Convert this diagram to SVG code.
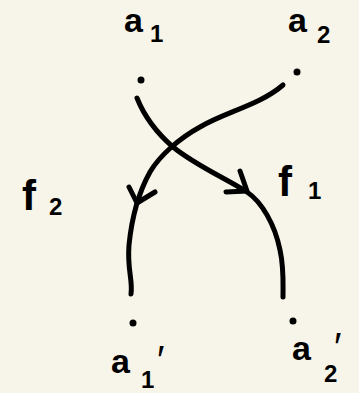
<svg xmlns="http://www.w3.org/2000/svg" width="359" height="393" viewBox="0 0 359 393">
<style>
.bg{fill:#f7f5e9}
.dot{fill:#000}
.t{font-family:"Liberation Sans",Arial,sans-serif;fill:#000;font-weight:bold}
.big{font-size:34px}
.f{font-size:42px}
.sub{font-size:24px}
.pr{font-size:40px;font-weight:normal}
.e{fill:none;stroke:#000;stroke-width:5;stroke-linecap:round;stroke-linejoin:round}
</style>
<rect class="bg" x="0" y="0" width="359" height="393"/>
<g id="a1">
<circle class="dot" cx="141" cy="80" r="3.5"/>
<text class="t big" x="124" y="32">a</text><text class="t sub" x="150" y="42">1</text>
</g>
<g id="a2">
<circle class="dot" cx="297" cy="72" r="3.5"/>
<text class="t big" x="288" y="32">a</text><text class="t sub" x="317" y="43">2</text>
</g>
<g id="a1p">
<circle class="dot" cx="133" cy="323" r="3.5"/>
<text class="t big" x="111" y="373">a</text><text class="t sub" x="141" y="388">1</text><text class="t pr" x="157" y="374">′</text>
</g>
<g id="a2p">
<circle class="dot" cx="293" cy="321" r="3.5"/>
<text class="t big" x="292" y="360">a</text><text class="t sub" x="324" y="382">2</text><text class="t pr" x="334" y="361">′</text>
</g>
<g id="connectors">
<path class="e" d="M137 98 C145 118 158 134 173 147 C195 165 225 178 247 192 C262 202 275 225 280 250 C284 268 283 283 283 297"/>
<path class="e" d="M240 171 L247 191 L226 192"/>
<path class="e" d="M283 85 C260 105 225 112 200 127 C180 138 160 155 150 172 C140 190 132 215 129 245 C127 270 133 280 131 294"/>
<path class="e" d="M129 187 L137 203 L155 192"/>
<text class="t f" x="22" y="210">f</text><text class="t sub" x="49" y="215">2</text>
<text class="t f" x="278" y="196">f</text><text class="t sub" x="308" y="199">1</text>
</g>
</svg>
